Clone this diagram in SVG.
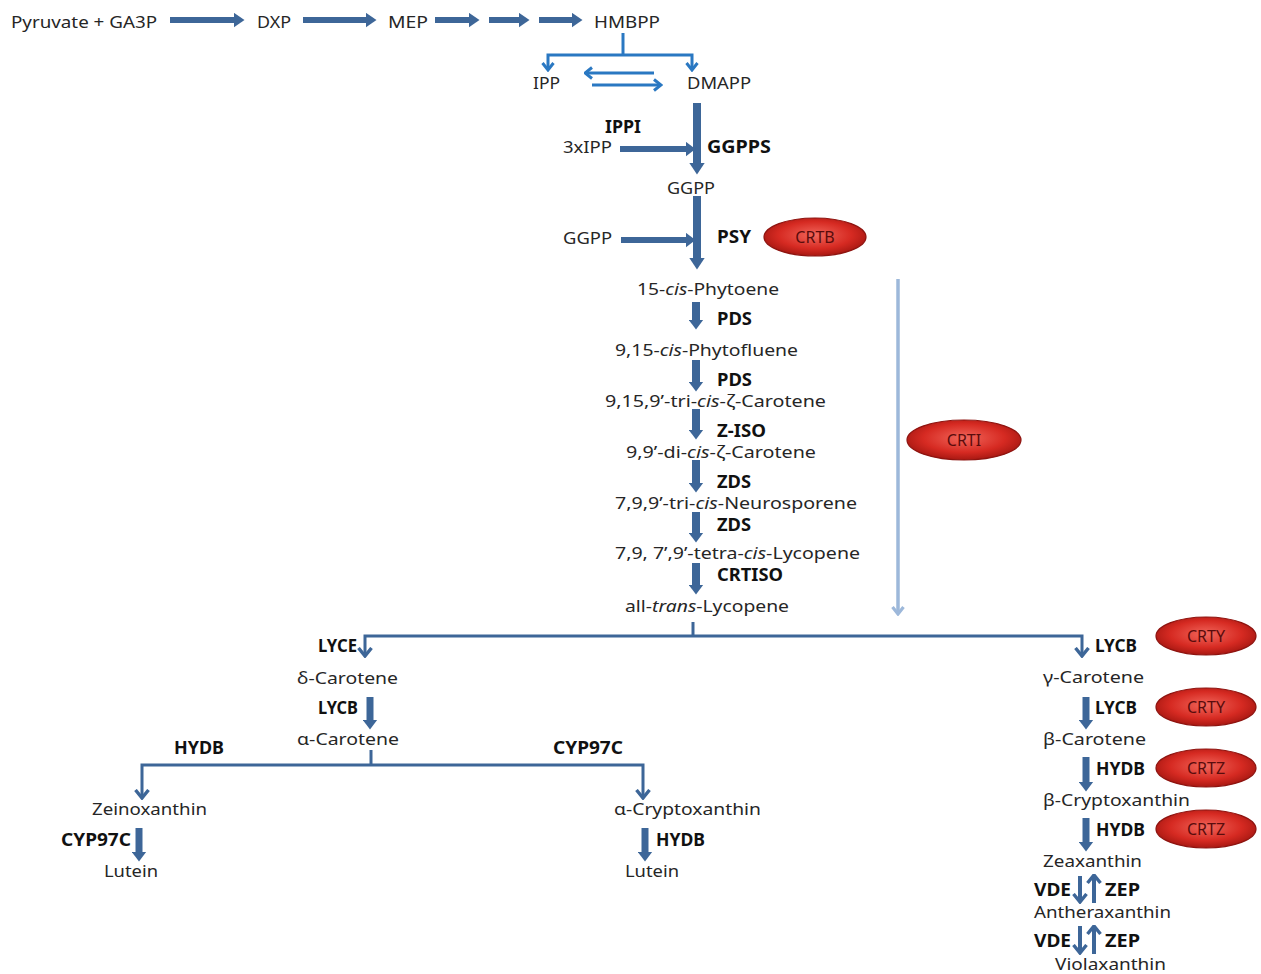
<svg xmlns="http://www.w3.org/2000/svg" width="1261" height="974" viewBox="0 0 1261 974">
<defs>
<style>
text{font-family:"Noto Sans","Open Sans",sans-serif;font-size:17px;fill:#262626}
.b{font-weight:bold;fill:#111}
.e{font-size:16px;fill:#5a0c0c;text-anchor:middle}
.d{stroke:#3D6698;fill:none}
.bl{stroke:#2A78C2;fill:none;stroke-width:3}
.lb{stroke:#9DB8DA;fill:none;stroke-width:3.5}
.ell{fill:url(#rg);stroke:#8E1410;stroke-width:1.2}
</style>
<radialGradient id="rg" cx="50%" cy="45%" r="55%">
<stop offset="0" stop-color="#F2665B"/>
<stop offset="0.65" stop-color="#D62A22"/>
<stop offset="1" stop-color="#A81812"/>
</radialGradient>
<marker id="ahL" viewBox="0 0 12 16" refX="0.5" refY="8" markerWidth="12" markerHeight="16" orient="auto" markerUnits="userSpaceOnUse"><path d="M0,0 L12,8 L0,16 z" fill="#3D6698"/></marker>
<marker id="ah" viewBox="0 0 10 15" refX="0.5" refY="7.5" markerWidth="10" markerHeight="15" orient="auto" markerUnits="userSpaceOnUse"><path d="M0,0 L10,7.5 L0,15 z" fill="#3D6698"/></marker>
<marker id="ahS" viewBox="0 0 11 15" refX="0.5" refY="7.5" markerWidth="11" markerHeight="15" orient="auto" markerUnits="userSpaceOnUse"><path d="M0,0 L11,7.5 L0,15 z" fill="#3D6698"/></marker>
<marker id="cvB" viewBox="0 0 10 14" refX="8.5" refY="7" markerWidth="10" markerHeight="14" orient="auto" markerUnits="userSpaceOnUse"><path d="M1.5,1.5 L8.5,7 L1.5,12.5" fill="none" stroke="#2A78C2" stroke-width="3"/></marker>
<marker id="cvD" viewBox="0 0 11 16" refX="9.5" refY="8" markerWidth="11" markerHeight="16" orient="auto" markerUnits="userSpaceOnUse"><path d="M1.5,1.5 L9.5,8 L1.5,14.5" fill="none" stroke="#3D6698" stroke-width="3.4"/></marker>
<marker id="cvL" viewBox="0 0 10 14" refX="8.5" refY="7" markerWidth="10" markerHeight="14" orient="auto" markerUnits="userSpaceOnUse"><path d="M1.5,1.5 L8.5,7 L1.5,12.5" fill="none" stroke="#9DB8DA" stroke-width="3.2"/></marker>
</defs>
<rect width="1261" height="974" fill="#fff"/>

<g id="connectors">
<g class="d" stroke-width="6">
<path d="M170,20 H234" marker-end="url(#ahS)"/>
<path d="M303,20 H366" marker-end="url(#ahS)"/>
<path d="M435,20 H469" marker-end="url(#ahS)"/>
<path d="M489,20 H519" marker-end="url(#ahS)"/>
<path d="M539,20 H572" marker-end="url(#ahS)"/>
</g>
<path class="bl" d="M623,33 V55"/>
<path class="bl" d="M623,55 H548 V70" marker-end="url(#cvB)"/>
<path class="bl" d="M623,55 H692 V70" marker-end="url(#cvB)"/>
<path class="bl" d="M654,73 H585" marker-end="url(#cvB)"/>
<path class="bl" d="M592,85 H661" marker-end="url(#cvB)"/>
<g class="d" stroke-width="8">
<path d="M697,103 V163" marker-end="url(#ahL)"/>
<path d="M697,196 V258" marker-end="url(#ahL)"/>
<path d="M696,302 V320" marker-end="url(#ah)"/>
<path d="M696,360 V382" marker-end="url(#ah)"/>
<path d="M696,409 V430" marker-end="url(#ah)"/>
<path d="M696,460 V483" marker-end="url(#ah)"/>
<path d="M696,512 V533" marker-end="url(#ah)"/>
<path d="M696,563 V585" marker-end="url(#ah)"/>
</g>
<g class="d" stroke-width="6">
<path d="M620,149 H686" marker-end="url(#ah)"/>
<path d="M621,240 H686" marker-end="url(#ah)"/>
</g>
<path class="lb" d="M898,279 V614" marker-end="url(#cvL)"/>
<g class="d" stroke-width="3">
<path d="M693,622 V636"/>
<path d="M693,636 H365 V656" marker-end="url(#cvD)"/>
<path d="M693,636 H1082 V656" marker-end="url(#cvD)"/>
<path d="M371,750 V765"/>
<path d="M371,765 H142 V798" marker-end="url(#cvD)"/>
<path d="M371,765 H643 V798" marker-end="url(#cvD)"/>
</g>
<g class="d" stroke-width="7">
<path d="M370,697 V720" marker-end="url(#ah)"/>
<path d="M139,828 V852" marker-end="url(#ah)"/>
<path d="M645,828 V852" marker-end="url(#ah)"/>
<path d="M1086,697 V720" marker-end="url(#ah)"/>
<path d="M1086,757 V782" marker-end="url(#ah)"/>
<path d="M1086,818 V842" marker-end="url(#ah)"/>
</g>
<g class="d" stroke-width="4">
<path d="M1080,876 V902" marker-end="url(#cvD)"/>
<path d="M1094,903 V875" marker-end="url(#cvD)"/>
<path d="M1080,926 V953" marker-end="url(#cvD)"/>
<path d="M1094,954 V926" marker-end="url(#cvD)"/>
</g>
</g>

<g id="n-pyruvate"><text x="11" y="28" textLength="146" lengthAdjust="spacingAndGlyphs">Pyruvate + GA3P</text></g>
<g id="n-dxp"><text x="257" y="28" textLength="34" lengthAdjust="spacingAndGlyphs">DXP</text></g>
<g id="n-mep"><text x="388" y="28" textLength="40" lengthAdjust="spacingAndGlyphs">MEP</text></g>
<g id="n-hmbpp"><text x="594" y="28" textLength="66" lengthAdjust="spacingAndGlyphs">HMBPP</text></g>
<g id="n-ipp"><text x="533" y="89" textLength="27" lengthAdjust="spacingAndGlyphs">IPP</text></g>
<g id="n-dmapp"><text x="687" y="89" textLength="64" lengthAdjust="spacingAndGlyphs">DMAPP</text></g>
<g id="l-ippi"><text class="b" x="605" y="133" textLength="36" lengthAdjust="spacingAndGlyphs">IPPI</text></g>
<g id="n-3xipp"><text x="563" y="153" textLength="49" lengthAdjust="spacingAndGlyphs">3xIPP</text></g>
<g id="l-ggpps"><text class="b" x="707" y="153" textLength="64" lengthAdjust="spacingAndGlyphs">GGPPS</text></g>
<g id="n-ggpp"><text x="667" y="194" textLength="48" lengthAdjust="spacingAndGlyphs">GGPP</text></g>
<g id="n-ggpp2"><text x="563" y="244" textLength="49" lengthAdjust="spacingAndGlyphs">GGPP</text></g>
<g id="l-psy"><text class="b" x="717" y="243" textLength="34" lengthAdjust="spacingAndGlyphs">PSY</text></g>
<g id="e-crtb"><ellipse class="ell" cx="815" cy="237" rx="51" ry="19"/><text class="e" x="815" y="243">CRTB</text></g>
<g id="n-phytoene"><text x="637" y="295" textLength="142" lengthAdjust="spacingAndGlyphs">15-<tspan font-style="italic">cis</tspan>-Phytoene</text></g>
<g id="l-pds1"><text class="b" x="717" y="325" textLength="35" lengthAdjust="spacingAndGlyphs">PDS</text></g>
<g id="n-phytofluene"><text x="615" y="356" textLength="183" lengthAdjust="spacingAndGlyphs">9,15-<tspan font-style="italic">cis</tspan>-Phytofluene</text></g>
<g id="l-pds2"><text class="b" x="717" y="386" textLength="35" lengthAdjust="spacingAndGlyphs">PDS</text></g>
<g id="n-tzc"><text x="605" y="407" textLength="221" lengthAdjust="spacingAndGlyphs">9,15,9’-tri-<tspan font-style="italic">cis</tspan>-ζ-Carotene</text></g>
<g id="l-ziso"><text class="b" x="717" y="437" textLength="49" lengthAdjust="spacingAndGlyphs">Z-ISO</text></g>
<g id="n-dzc"><text x="626" y="458" textLength="190" lengthAdjust="spacingAndGlyphs">9,9’-di-<tspan font-style="italic">cis</tspan>-ζ-Carotene</text></g>
<g id="l-zds1"><text class="b" x="717" y="488" textLength="34" lengthAdjust="spacingAndGlyphs">ZDS</text></g>
<g id="n-neuro"><text x="615" y="509" textLength="242" lengthAdjust="spacingAndGlyphs">7,9,9’-tri-<tspan font-style="italic">cis</tspan>-Neurosporene</text></g>
<g id="l-zds2"><text class="b" x="717" y="531" textLength="34" lengthAdjust="spacingAndGlyphs">ZDS</text></g>
<g id="n-prolyc"><text x="615" y="559" textLength="245" lengthAdjust="spacingAndGlyphs">7,9, 7’,9’-tetra-<tspan font-style="italic">cis</tspan>-Lycopene</text></g>
<g id="l-crtiso"><text class="b" x="717" y="581" textLength="66" lengthAdjust="spacingAndGlyphs">CRTISO</text></g>
<g id="n-lyc"><text x="625" y="612" textLength="164" lengthAdjust="spacingAndGlyphs">all-<tspan font-style="italic">trans</tspan>-Lycopene</text></g>
<g id="e-crti"><ellipse class="ell" cx="964" cy="440" rx="57" ry="20"/><text class="e" x="964" y="446">CRTI</text></g>

<g id="l-lyce"><text class="b" x="318" y="652" textLength="39" lengthAdjust="spacingAndGlyphs">LYCE</text></g>
<g id="l-lycb-r1"><text class="b" x="1095" y="652" textLength="42" lengthAdjust="spacingAndGlyphs">LYCB</text></g>
<g id="e-crty1"><ellipse class="ell" cx="1206" cy="636" rx="50" ry="19"/><text class="e" x="1206" y="642">CRTY</text></g>
<g id="n-dcar"><text x="297" y="684" textLength="101" lengthAdjust="spacingAndGlyphs">δ-Carotene</text></g>
<g id="l-lycb-l"><text class="b" x="318" y="714" textLength="40" lengthAdjust="spacingAndGlyphs">LYCB</text></g>
<g id="n-acar"><text x="297" y="745" textLength="102" lengthAdjust="spacingAndGlyphs">α-Carotene</text></g>
<g id="l-hydb-a"><text class="b" x="174" y="754" textLength="50" lengthAdjust="spacingAndGlyphs">HYDB</text></g>
<g id="l-cyp-a"><text class="b" x="553" y="754" textLength="70" lengthAdjust="spacingAndGlyphs">CYP97C</text></g>
<g id="n-zein"><text x="92" y="815" textLength="115" lengthAdjust="spacingAndGlyphs">Zeinoxanthin</text></g>
<g id="n-acry"><text x="614" y="815" textLength="147" lengthAdjust="spacingAndGlyphs">α-Cryptoxanthin</text></g>
<g id="l-cyp-b"><text class="b" x="61" y="846" textLength="70" lengthAdjust="spacingAndGlyphs">CYP97C</text></g>
<g id="l-hydb-b"><text class="b" x="656" y="846" textLength="49" lengthAdjust="spacingAndGlyphs">HYDB</text></g>
<g id="n-lutein1"><text x="104" y="877" textLength="54" lengthAdjust="spacingAndGlyphs">Lutein</text></g>
<g id="n-lutein2"><text x="625" y="877" textLength="54" lengthAdjust="spacingAndGlyphs">Lutein</text></g>

<g id="n-gcar"><text x="1043" y="683" textLength="101" lengthAdjust="spacingAndGlyphs">γ-Carotene</text></g>
<g id="l-lycb-r2"><text class="b" x="1095" y="714" textLength="42" lengthAdjust="spacingAndGlyphs">LYCB</text></g>
<g id="e-crty2"><ellipse class="ell" cx="1206" cy="707" rx="50" ry="19"/><text class="e" x="1206" y="713">CRTY</text></g>
<g id="n-bcar"><text x="1043" y="745" textLength="103" lengthAdjust="spacingAndGlyphs">β-Carotene</text></g>
<g id="l-hydb-r1"><text class="b" x="1096" y="775" textLength="49" lengthAdjust="spacingAndGlyphs">HYDB</text></g>
<g id="e-crtz1"><ellipse class="ell" cx="1206" cy="768" rx="50" ry="19"/><text class="e" x="1206" y="774">CRTZ</text></g>
<g id="n-bcry"><text x="1043" y="806" textLength="147" lengthAdjust="spacingAndGlyphs">β-Cryptoxanthin</text></g>
<g id="l-hydb-r2"><text class="b" x="1096" y="836" textLength="49" lengthAdjust="spacingAndGlyphs">HYDB</text></g>
<g id="e-crtz2"><ellipse class="ell" cx="1206" cy="829" rx="50" ry="19"/><text class="e" x="1206" y="835">CRTZ</text></g>
<g id="n-zea"><text x="1043" y="867" textLength="99" lengthAdjust="spacingAndGlyphs">Zeaxanthin</text></g>
<g id="l-vde1"><text class="b" x="1034" y="896" textLength="37" lengthAdjust="spacingAndGlyphs">VDE</text></g>
<g id="l-zep1"><text class="b" x="1105" y="896" textLength="35" lengthAdjust="spacingAndGlyphs">ZEP</text></g>
<g id="n-anth"><text x="1034" y="918" textLength="137" lengthAdjust="spacingAndGlyphs">Antheraxanthin</text></g>
<g id="l-vde2"><text class="b" x="1034" y="947" textLength="37" lengthAdjust="spacingAndGlyphs">VDE</text></g>
<g id="l-zep2"><text class="b" x="1105" y="947" textLength="35" lengthAdjust="spacingAndGlyphs">ZEP</text></g>
<g id="n-viola"><text x="1055" y="970" textLength="111" lengthAdjust="spacingAndGlyphs">Violaxanthin</text></g>
</svg>
